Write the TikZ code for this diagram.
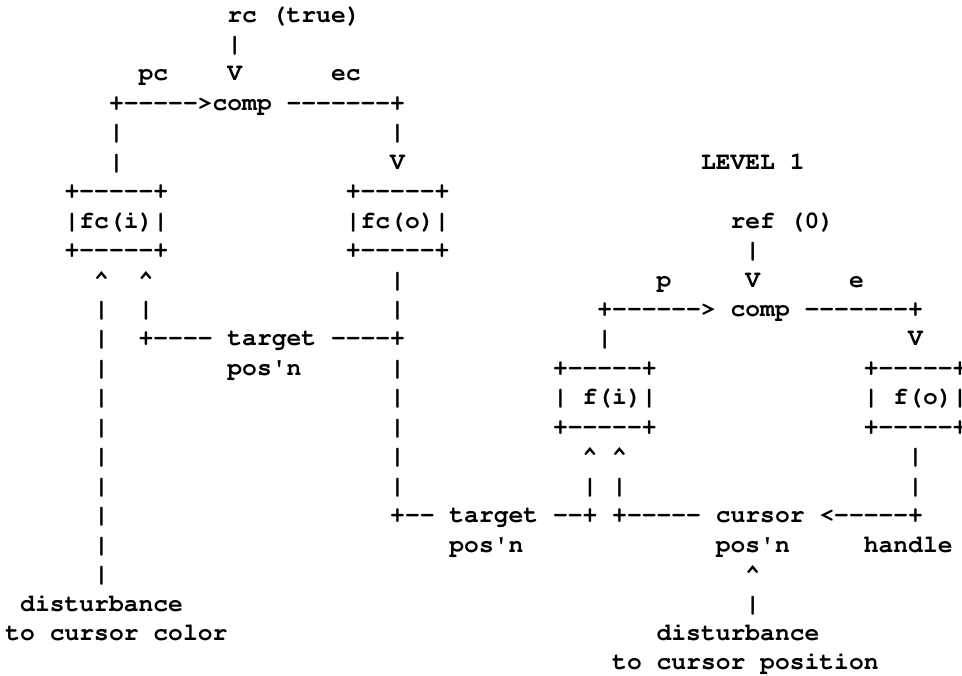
\documentclass[tikz,border=0pt]{standalone}
\usepackage[T1]{fontenc}
\usepackage{courier}
\tikzset{asc/.style={inner sep=0pt, outer sep=0pt, anchor=base west, text=black,
  font=\ttfamily\bfseries\fontsize{18.5}{22}\selectfont}}
\newcommand\asc[4]{\node[asc] (#1) at ({5.4+14.8*#2},{22+29.45*#3}) {#4};}
\newcommand\up{\textasciicircum}
\newcommand\apo{\textquotesingle}
\begin{document}
\begin{tikzpicture}[x=0.75pt,y=-0.75pt]
\fill[white] (0,0) rectangle (962,675);
\useasboundingbox (0,0) rectangle (962,675);
% level 2 (left)
\asc{rc}{15}{0}{rc (true)}
\asc{rcbar}{15}{1}{|}
\asc{pc}{9}{2}{pc}
\asc{rcv}{15}{2}{V}
\asc{ec}{22}{2}{ec}
\asc{compc}{7}{3}{+-{}-{}-{}-{}->comp -{}-{}-{}-{}-{}-{}-+}
\asc{l4a}{7}{4}{|}
\asc{l4b}{26}{4}{|}
\asc{l5a}{7}{5}{|}
\asc{l5b}{26}{5}{V}
\asc{level}{47}{5}{LEVEL 1}
\asc{fciT}{4}{6}{+-{}-{}-{}-{}-+}
\asc{fcoT}{23}{6}{+-{}-{}-{}-{}-+}
\asc{fci}{4}{7}{|fc(i)|}
\asc{fco}{23}{7}{|fc(o)|}
\asc{ref}{49}{7}{ref (0)}
\asc{fciB}{4}{8}{+-{}-{}-{}-{}-+}
\asc{fcoB}{23}{8}{+-{}-{}-{}-{}-+}
\asc{refbar}{50}{8}{|}
\asc{l9a}{6}{9}{\up}
\asc{l9b}{9}{9}{\up}
\asc{l9c}{26}{9}{|}
\asc{p}{44}{9}{p}
\asc{refv}{50}{9}{V}
\asc{e}{57}{9}{e}
\asc{l10a}{6}{10}{|}
\asc{l10b}{9}{10}{|}
\asc{l10c}{26}{10}{|}
\asc{comp}{40}{10}{+-{}-{}-{}-{}-{}-> comp -{}-{}-{}-{}-{}-{}-+}
\asc{l11a}{6}{11}{|}
\asc{tgtc}{9}{11}{+-{}-{}-{}- target -{}-{}-{}-+}
\asc{l11c}{40}{11}{|}
\asc{l11d}{61}{11}{V}
\asc{l12a}{6}{12}{|}
\asc{tgtcp}{15}{12}{pos\apo n}
\asc{l12c}{26}{12}{|}
\asc{fiT}{37}{12}{+-{}-{}-{}-{}-+}
\asc{foT}{58}{12}{+-{}-{}-{}-{}-+}
\asc{l13a}{6}{13}{|}
\asc{l13b}{26}{13}{|}
\asc{fi}{37}{13}{| f(i)|}
\asc{fo}{58}{13}{| f(o)|}
\asc{l14a}{6}{14}{|}
\asc{l14b}{26}{14}{|}
\asc{fiB}{37}{14}{+-{}-{}-{}-{}-+}
\asc{foB}{58}{14}{+-{}-{}-{}-{}-+}
\asc{l15a}{6}{15}{|}
\asc{l15b}{26}{15}{|}
\asc{l15c}{39}{15}{\up}
\asc{l15d}{41}{15}{\up}
\asc{l15e}{61}{15}{|}
\asc{l16a}{6}{16}{|}
\asc{l16b}{26}{16}{|}
\asc{l16c}{39}{16}{|}
\asc{l16d}{41}{16}{|}
\asc{l16e}{61}{16}{|}
\asc{l17a}{6}{17}{|}
\asc{cursor}{26}{17}{+-{}- target -{}-+ +-{}-{}-{}-{}- cursor <-{}-{}-{}-{}-+}
\asc{l18a}{6}{18}{|}
\asc{tgtp}{30}{18}{pos\apo n}
\asc{curp}{48}{18}{pos\apo n}
\asc{handle}{58}{18}{handle}
\asc{l19a}{6}{19}{|}
\asc{l19b}{50}{19}{\up}
\asc{distc}{1}{20}{disturbance}
\asc{l20b}{50}{20}{|}
\asc{distcc}{0}{21}{to cursor color}
\asc{distp}{44}{21}{disturbance}
\asc{distpp}{41}{22}{to cursor position}
\end{tikzpicture}
\end{document}
